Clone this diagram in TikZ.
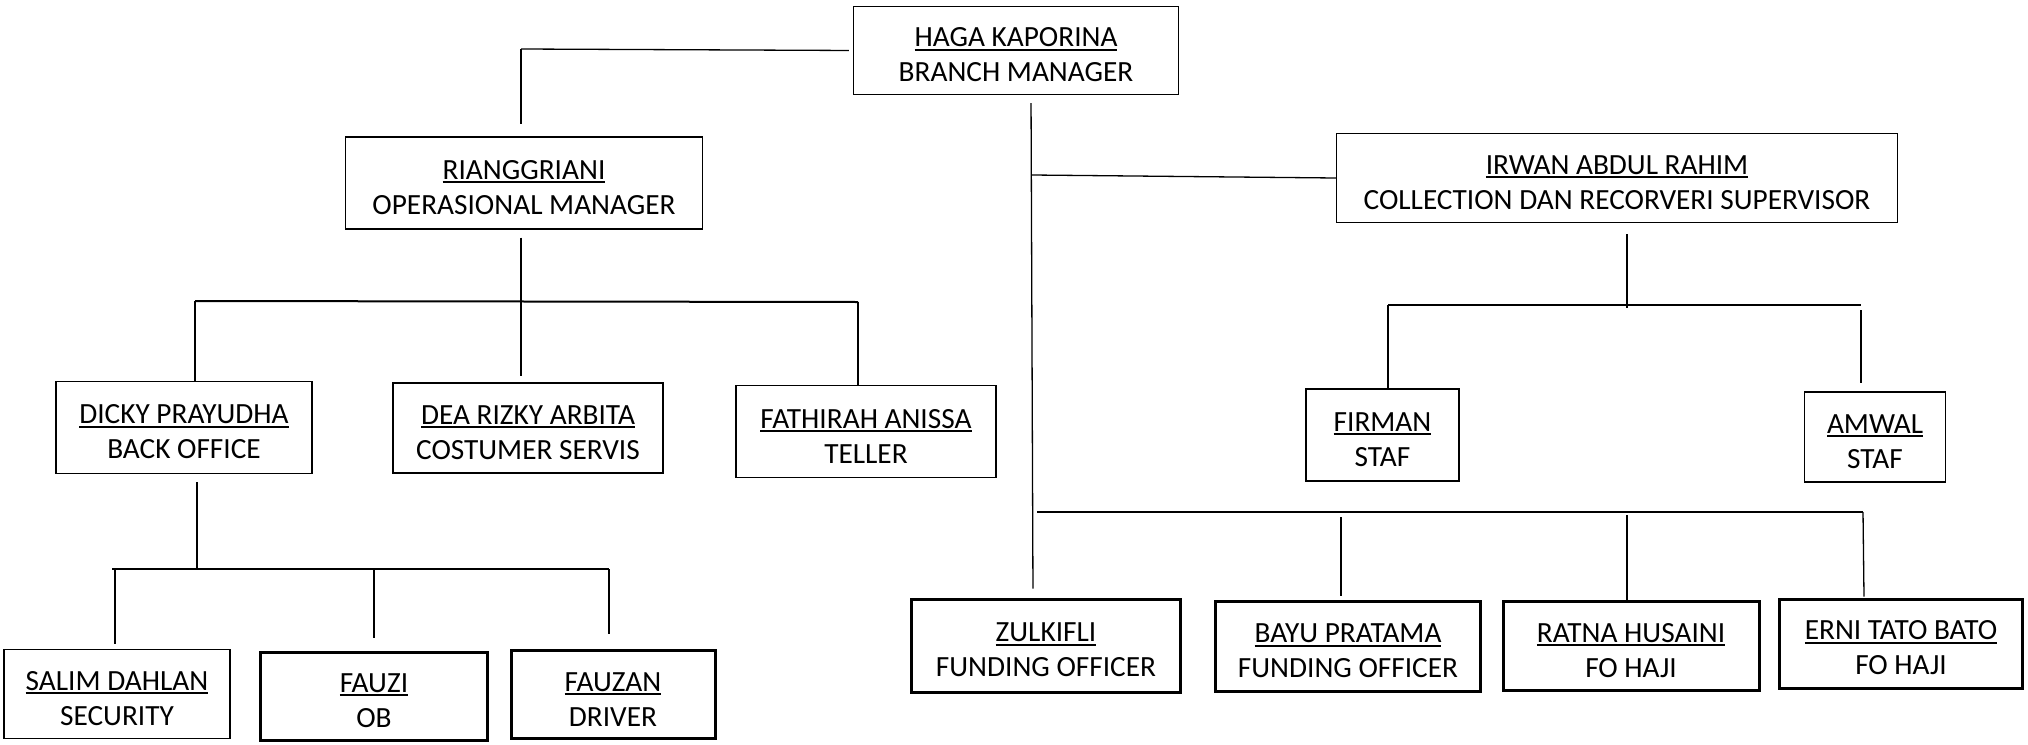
\documentclass[tikz,border=0pt]{standalone}
\usepackage{fontspec}
\setmainfont{Carlito}
\newcommand{\nameline}[1]{\rule{0pt}{28pt}\setbox0\hbox{#1}\rlap{\rule[-4pt]{\wd0}{2pt}}\box0}
\tikzset{
        post/.style={draw,line width=1.3pt,align=center,inner sep=0pt,font=\fontsize{29.3}{35}\selectfont},
        strong/.style={post,line width=3pt},
        link/.style={line width=1.3pt},
        bus/.style={line width=2pt},
        }

\begin{document}
\begin{tikzpicture}[x=1pt,y=-1pt]
			\useasboundingbox (0,0) rectangle (2028,744);

			% top
			\node [post,minimum width=325pt,minimum height=88pt] (haga) at (1016,50.5) {\nameline{HAGA KAPORINA}\\BRANCH MANAGER};

			% second level
			\node [post,minimum width=357pt,minimum height=92pt] (rian) at (524,183) {\nameline{RIANGGRIANI}\\OPERASIONAL MANAGER};
			\node [post,minimum width=561pt,minimum height=89pt] (irwan) at (1617,178) {\nameline{IRWAN ABDUL RAHIM}\\COLLECTION DAN RECORVERI SUPERVISOR};

			% operasional staff
			\node [post,minimum width=256pt,minimum height=92pt] (dicky) at (184,427.5) {\nameline{DICKY PRAYUDHA}\\BACK OFFICE};
			\node [post,minimum width=270pt,minimum height=90pt] (dea) at (528,428) {\nameline{DEA RIZKY ARBITA}\\COSTUMER SERVIS};
			\node [post,minimum width=260pt,minimum height=92pt] (fath) at (866,431.5) {\nameline{FATHIRAH ANISSA}\\TELLER};

			% collection staff
			\node [post,minimum width=153pt,minimum height=92pt] (firman) at (1382.5,435) {\nameline{FIRMAN}\\STAF};
			\node [post,minimum width=141pt,minimum height=90pt] (amwal) at (1875,437) {\nameline{AMWAL}\\STAF};

			% back office staff
			\node [post,minimum width=226pt,minimum height=89pt] (salim) at (117,694) {\nameline{SALIM DAHLAN}\\SECURITY};
			\node [strong,minimum width=227pt,minimum height=88pt] (fauzi) at (374,696) {\nameline{FAUZI}\\OB};
			\node [strong,minimum width=204pt,minimum height=88pt] (fauzan) at (613,694.5) {\nameline{FAUZAN}\\DRIVER};

			% funding
			\node [strong,minimum width=269pt,minimum height=93pt] (zul) at (1046,645.5) {\nameline{ZULKIFLI}\\FUNDING OFFICER};
			\node [strong,minimum width=265pt,minimum height=90pt] (bayu) at (1348,646.5) {\nameline{BAYU PRATAMA}\\FUNDING OFFICER};
			\node [strong,minimum width=256pt,minimum height=89pt] (ratna) at (1631,646) {\nameline{RATNA HUSAINI}\\FO HAJI};
			\node [strong,minimum width=243pt,minimum height=89pt] (erni) at (1901,643.5) {\nameline{ERNI TATO BATO}\\FO HAJI};

			% bus points
			\coordinate (opsbend) at (521,49);
			\coordinate (opsL) at (195,301);
			\coordinate (opsR) at (858,302);
			\coordinate (boL) at (112,569);
			\coordinate (boR) at (609,569);
			\coordinate (collJ) at (1032,175);
			\coordinate (collL) at (1388,305);
			\coordinate (collR) at (1861,305);
			\coordinate (fundL) at (1037,512);
			\coordinate (fundR) at (1863,512);

			% branch manager to operasional
			\draw [link,shorten <=4pt] (haga.west) -- (opsbend);
			\draw [link,shorten >=12pt] (opsbend) -- (opsbend |- rian.north);

			% operasional bus
			\draw [bus] (opsL) -- (opsR);
			\draw [link,shorten <=8pt] ([xshift=-3pt]rian.south) -- ([xshift=-3pt]rian.south |- opsL);
			\draw [link] (opsL) -- (opsL |- dicky.north);
			\draw [link,shorten >=6pt] ([xshift=-7pt]dea.north |- opsL) -- ([xshift=-7pt]dea.north);
			\draw [link] (opsR) -- (opsR |- fath.north);

			% back office bus
			\draw [bus] (boL) -- (boR);
			\draw [link,shorten <=8pt] ([xshift=13pt]dicky.south) -- ([xshift=13pt]dicky.south |- boL);
			\draw [link,shorten >=5pt] ([xshift=-2pt]salim.north |- boL) -- ([xshift=-2pt]salim.north);
			\draw [link,shorten >=13pt] (fauzi.north |- boL) -- (fauzi.north);
			\draw [link,shorten >=15pt] (boR) -- (boR |- fauzan.north);

			% trunk
			\draw [link,shorten <=8pt,shorten >=9pt] ([xshift=15pt]haga.south) -- ([xshift=-13pt]zul.north);
			\draw [link] (collJ) -- (irwan.west);

			% collection bus
			\draw [bus] (collL) -- (collR);
			\draw [link,shorten <=11pt] ([xshift=10pt]irwan.south) -- ([xshift=10pt]irwan.south |- 0,308);
			\draw [link] (collL) -- (collL |- firman.north);
			\draw [link,shorten <=5pt,shorten >=8pt] (collR) -- (collR |- amwal.north);

			% funding bus
			\draw [bus] (fundL) -- (fundR);
			\draw [link,shorten <=5pt,shorten >=4pt] ([xshift=-7pt]bayu.north |- fundL) -- ([xshift=-7pt]bayu.north);
			\draw [link,shorten <=3pt] ([xshift=-4pt]ratna.north |- fundL) -- ([xshift=-4pt]ratna.north);
			\draw [link,shorten >=1pt] (fundR) -- ([xshift=-37pt]erni.north);
		\end{tikzpicture}
\end{document}
